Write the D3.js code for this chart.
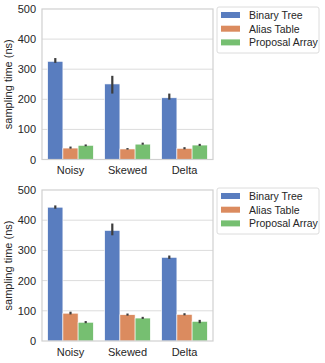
<!DOCTYPE html>
<html>
<head>
<meta charset="utf-8">
<script src="https://cdn.jsdelivr.net/npm/d3@7"></script>
<style>
  body { margin: 0; background: #fff; }
  svg { display: block; font-family: "Liberation Sans", Arial, sans-serif; }
</style>
</head>
<body>
<svg id="chart" width="325" height="363"></svg>
<script>
// categories and series
var groups = ["Noisy", "Skewed", "Delta"];
var methods = ["Binary Tree", "Alias Table", "Proposal Array"];
var colors = ["#597dbf", "#db8b5f", "#76bf71"];
var yTicks = [0, 100, 200, 300, 400, 500];

// top panel: mean, low, high per method (rows) per group (cols)
var topMean = [[326, 251, 205], [38, 35, 37], [47, 51, 48]];
var topLow = [[321, 219, 199], [36, 33, 34], [44, 49, 45]];
var topHigh = [[337, 278, 219], [43, 38, 41], [50, 56, 52]];

// bottom panel
var botMean = [[443, 366, 277], [92, 87, 88], [62, 76, 65]];
var botLow = [[438, 350, 272], [88, 84, 85], [59, 73, 59]];
var botHigh = [[449, 389, 283], [97, 91, 92], [66, 80, 70]];

var svg = d3.select("#chart");

function panel(top, bottom, mean, low, high) {
    var left = 42, right = 213;
    var g = svg.append("g");

    var x = d3.scaleBand().domain(groups).range([left, right]).paddingInner(0.2).paddingOuter(0.1);
    var xSub = d3.scaleBand().domain(methods).range([0, x.bandwidth()]);
    var y = d3.scaleLinear().domain([0, 500]).range([bottom, top]);

    // grid
    g.append("g").selectAll("line").data(yTicks.slice(1, 5)).enter()
        .append("line")
        .attr("x1", left).attr("x2", right)
        .attr("y1", d => y(d)).attr("y2", d => y(d))
        .attr("stroke", "#dcdcdc").attr("stroke-width", 1);

    // bars
    methods.forEach(function (m, i) {
        g.append("g").selectAll("rect").data(groups).enter()
            .append("rect")
            .attr("x", d => x(d) + xSub(m))
            .attr("width", xSub.bandwidth())
            .attr("y", (d, j) => y(mean[i][j]))
            .attr("height", (d, j) => y(0) - y(mean[i][j]))
            .attr("fill", colors[i])
            .attr("stroke", "#fff").attr("stroke-width", 0.6);

        g.append("g").selectAll("line").data(groups).enter()
            .append("line")
            .attr("x1", d => x(d) + xSub(m) + xSub.bandwidth() / 2)
            .attr("x2", d => x(d) + xSub(m) + xSub.bandwidth() / 2)
            .attr("y1", (d, j) => y(low[i][j]))
            .attr("y2", (d, j) => y(high[i][j]))
            .attr("stroke", "#3d3d3d").attr("stroke-width", 2.2);
    });

    // frame
    g.append("rect")
        .attr("x", left).attr("y", top)
        .attr("width", right - left).attr("height", bottom - top)
        .attr("fill", "none").attr("stroke", "#d0d0d0").attr("stroke-width", 1.2);

    // y ticks
    var ya = g.append("g").attr("transform", "translate(" + left + ",0)")
        .call(d3.axisLeft(y).tickValues(yTicks).tickSize(0).tickPadding(6));
    ya.select(".domain").remove();
    ya.selectAll("text").attr("font-size", 11).attr("fill", "#262626")
        .attr("font-family", "Liberation Sans, Arial, sans-serif");

    // x ticks
    var xa = g.append("g").attr("transform", "translate(0," + bottom + ")")
        .call(d3.axisBottom(x).tickSize(0).tickPadding(7));
    xa.select(".domain").remove();
    xa.selectAll("text").attr("font-size", 11).attr("fill", "#262626")
        .attr("font-family", "Liberation Sans, Arial, sans-serif");

    g.append("text")
        .attr("transform", "translate(12," + (top + bottom) / 2 + ") rotate(-90)")
        .attr("text-anchor", "middle")
        .attr("font-size", 11).attr("fill", "#262626")
        .text("sampling time (ns)");

    // legend
    var lg = g.append("g").attr("transform", "translate(217," + (top - 2) + ")");
    lg.append("rect").attr("x", 0).attr("y", 0).attr("width", 102).attr("height", 46)
        .attr("rx", 2).attr("fill", "#fff").attr("stroke", "#dcdcdc").attr("stroke-width", 1);
    methods.forEach(function (m, i) {
        lg.append("rect").attr("x", 4).attr("y", 5 + i * 13.7).attr("width", 19).attr("height", 6)
            .attr("fill", colors[i]);
        lg.append("text").attr("x", 32).attr("y", 12 + i * 13.7)
            .attr("font-size", 10.5).attr("fill", "#262626").text(m);
    });
}

panel(9, 159.5, topMean, topLow, topHigh);
panel(190, 341, botMean, botLow, botHigh);
</script>
</body>
</html>
